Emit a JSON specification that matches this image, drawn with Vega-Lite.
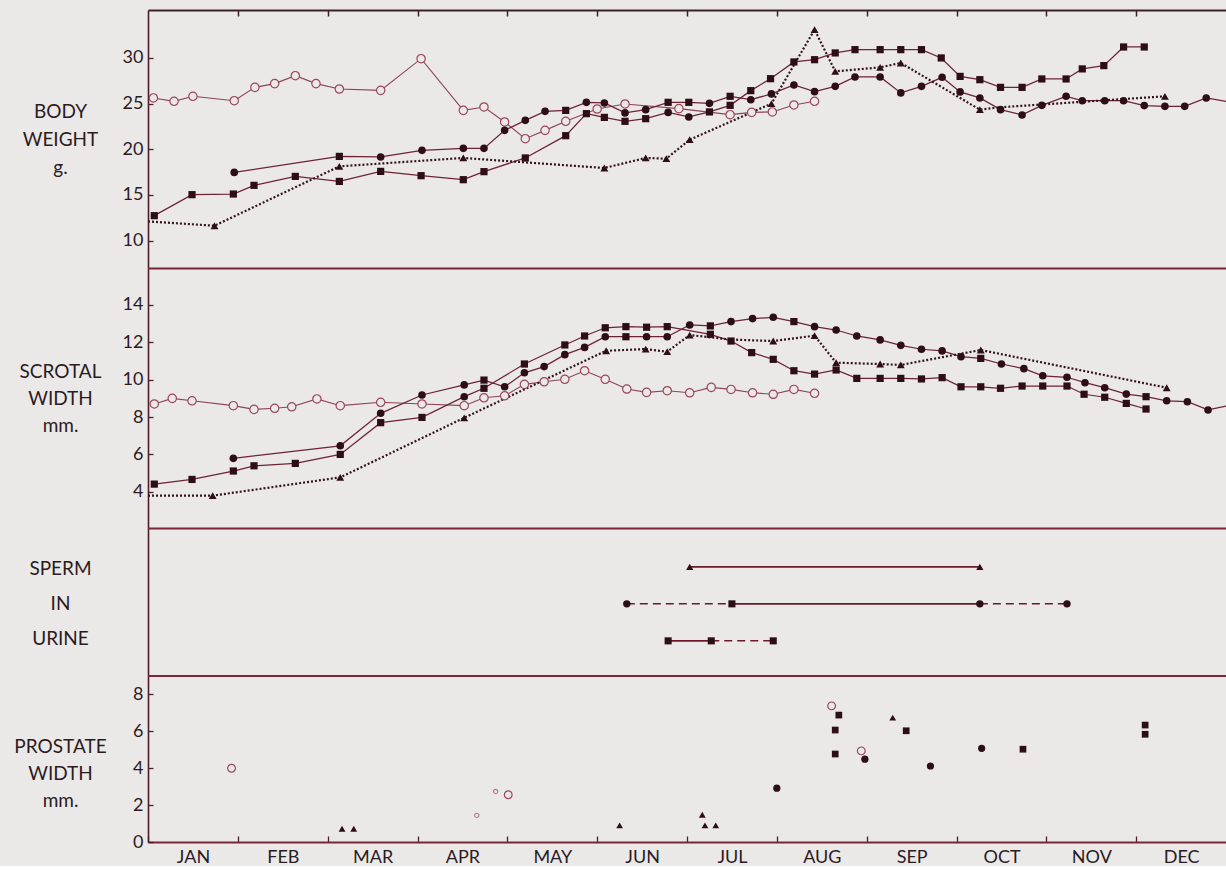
{
  "$schema": "https://vega.github.io/schema/vega-lite/v6.json",
  "background": "#ebe9e8",
  "padding": {"left": 13, "top": 9, "right": 0, "bottom": 0},
  "spacing": 0,
  "bounds": "flush",
  "config": {
    "view": {"stroke": null},
    "font": "Lato",
    "axis": {
      "labelFont": "Lato", "labelFontSize": 18, "labelColor": "#2b1b1f",
      "titleFont": "Lato", "titleFontSize": 19, "titleFontWeight": "normal", "titleColor": "#2b1b1f",
      "grid": false, "domainColor": "#4e1c28", "tickColor": "#4e1c28", "domainWidth": 1.6, "tickWidth": 1.3,
      "labelFlush": false, "labelOverlap": false
    }
  },
  "datasets": {
    "bw": [
      {"series":"A","month":0.06,"value":25.62,"marker":"open"},
      {"series":"A","month":0.29,"value":25.25,"marker":"open"},
      {"series":"A","month":0.50,"value":25.80,"marker":"open"},
      {"series":"A","month":0.96,"value":25.32,"marker":"open"},
      {"series":"A","month":1.19,"value":26.78,"marker":"open"},
      {"series":"A","month":1.41,"value":27.19,"marker":"open"},
      {"series":"A","month":1.64,"value":28.06,"marker":"open"},
      {"series":"A","month":1.87,"value":27.19,"marker":"open"},
      {"series":"A","month":2.13,"value":26.60,"marker":"open"},
      {"series":"A","month":2.59,"value":26.45,"marker":"open"},
      {"series":"A","month":3.04,"value":29.92,"marker":"open"},
      {"series":"A","month":3.51,"value":24.26,"marker":"open"},
      {"series":"A","month":3.74,"value":24.63,"marker":"open"},
      {"series":"A","month":3.97,"value":22.99,"marker":"open"},
      {"series":"A","month":4.20,"value":21.16,"marker":"open"},
      {"series":"A","month":4.42,"value":22.07,"marker":"open"},
      {"series":"A","month":4.65,"value":23.06,"marker":"open"},
      {"series":"A","month":5.00,"value":24.41,"marker":"open"},
      {"series":"A","month":5.31,"value":24.96,"marker":"open"},
      {"series":"A","month":5.91,"value":24.45,"marker":"open"},
      {"series":"A","month":6.48,"value":23.79,"marker":"open"},
      {"series":"A","month":6.72,"value":24.04,"marker":"open"},
      {"series":"A","month":6.95,"value":24.09,"marker":"open"},
      {"series":"A","month":7.19,"value":24.85,"marker":"open"},
      {"series":"A","month":7.42,"value":25.25,"marker":"open"},

      {"series":"B","month":0.00,"value":12.10,"marker":"none"},
      {"series":"B","month":0.74,"value":11.63,"marker":"triangle"},
      {"series":"B","month":2.13,"value":18.13,"marker":"triangle"},
      {"series":"B","month":3.51,"value":19.05,"marker":"triangle"},
      {"series":"B","month":5.08,"value":17.95,"marker":"triangle"},
      {"series":"B","month":5.54,"value":19.05,"marker":"triangle"},
      {"series":"B","month":5.77,"value":18.97,"marker":"triangle"},
      {"series":"B","month":6.03,"value":21.05,"marker":"triangle"},
      {"series":"B","month":6.94,"value":25.00,"marker":"triangle"},
      {"series":"B","month":7.42,"value":33.10,"marker":"triangle"},
      {"series":"B","month":7.65,"value":28.53,"marker":"triangle"},
      {"series":"B","month":8.15,"value":28.97,"marker":"triangle"},
      {"series":"B","month":8.38,"value":29.45,"marker":"triangle"},
      {"series":"B","month":9.26,"value":24.34,"marker":"triangle"},
      {"series":"B","month":9.49,"value":24.60,"marker":"none"},
      {"series":"B","month":11.32,"value":25.80,"marker":"triangle"},

      {"series":"C","month":0.96,"value":17.47,"marker":"circle"},
      {"series":"C","month":2.13,"value":19.22,"marker":"square"},
      {"series":"C","month":2.59,"value":19.16,"marker":"circle"},
      {"series":"C","month":3.05,"value":19.88,"marker":"circle"},
      {"series":"C","month":3.51,"value":20.10,"marker":"circle"},
      {"series":"C","month":3.74,"value":20.10,"marker":"circle"},
      {"series":"C","month":3.97,"value":22.07,"marker":"circle"},
      {"series":"C","month":4.20,"value":23.17,"marker":"circle"},
      {"series":"C","month":4.42,"value":24.15,"marker":"circle"},
      {"series":"C","month":4.65,"value":24.26,"marker":"square"},
      {"series":"C","month":4.88,"value":25.14,"marker":"circle"},
      {"series":"C","month":5.08,"value":25.07,"marker":"circle"},
      {"series":"C","month":5.31,"value":23.98,"marker":"circle"},
      {"series":"C","month":5.54,"value":24.34,"marker":"circle"},
      {"series":"C","month":5.79,"value":25.14,"marker":"square"},
      {"series":"C","month":6.02,"value":25.14,"marker":"square"},
      {"series":"C","month":6.25,"value":25.03,"marker":"circle"},
      {"series":"C","month":6.48,"value":25.80,"marker":"square"},
      {"series":"C","month":6.71,"value":25.43,"marker":"circle"},
      {"series":"C","month":6.94,"value":26.06,"marker":"circle"},
      {"series":"C","month":7.19,"value":27.04,"marker":"circle"},
      {"series":"C","month":7.42,"value":26.31,"marker":"circle"},
      {"series":"C","month":7.65,"value":26.89,"marker":"circle"},
      {"series":"C","month":7.87,"value":27.92,"marker":"circle"},
      {"series":"C","month":8.15,"value":27.92,"marker":"circle"},
      {"series":"C","month":8.38,"value":26.17,"marker":"circle"},
      {"series":"C","month":8.61,"value":26.89,"marker":"circle"},
      {"series":"C","month":8.84,"value":27.88,"marker":"circle"},
      {"series":"C","month":9.04,"value":26.28,"marker":"circle"},
      {"series":"C","month":9.26,"value":25.62,"marker":"circle"},
      {"series":"C","month":9.49,"value":24.34,"marker":"circle"},
      {"series":"C","month":9.73,"value":23.76,"marker":"circle"},
      {"series":"C","month":9.95,"value":24.81,"marker":"circle"},
      {"series":"C","month":10.22,"value":25.80,"marker":"circle"},
      {"series":"C","month":10.40,"value":25.32,"marker":"circle"},
      {"series":"C","month":10.65,"value":25.32,"marker":"circle"},
      {"series":"C","month":10.86,"value":25.32,"marker":"circle"},
      {"series":"C","month":11.09,"value":24.78,"marker":"circle"},
      {"series":"C","month":11.32,"value":24.70,"marker":"circle"},
      {"series":"C","month":11.54,"value":24.70,"marker":"circle"},
      {"series":"C","month":11.78,"value":25.62,"marker":"circle"},
      {"series":"C","month":12.00,"value":25.25,"marker":"none"},

      {"series":"D","month":0.07,"value":12.73,"marker":"square"},
      {"series":"D","month":0.49,"value":15.03,"marker":"square"},
      {"series":"D","month":0.95,"value":15.10,"marker":"square"},
      {"series":"D","month":1.18,"value":16.05,"marker":"square"},
      {"series":"D","month":1.64,"value":17.03,"marker":"square"},
      {"series":"D","month":2.13,"value":16.48,"marker":"square"},
      {"series":"D","month":2.59,"value":17.58,"marker":"square"},
      {"series":"D","month":3.04,"value":17.11,"marker":"square"},
      {"series":"D","month":3.51,"value":16.67,"marker":"square"},
      {"series":"D","month":3.74,"value":17.55,"marker":"square"},
      {"series":"D","month":4.20,"value":19.05,"marker":"square"},
      {"series":"D","month":4.65,"value":21.49,"marker":"square"},
      {"series":"D","month":4.88,"value":23.90,"marker":"square"},
      {"series":"D","month":5.08,"value":23.49,"marker":"square"},
      {"series":"D","month":5.31,"value":23.06,"marker":"square"},
      {"series":"D","month":5.54,"value":23.35,"marker":"square"},
      {"series":"D","month":5.79,"value":24.04,"marker":"circle"},
      {"series":"D","month":6.02,"value":23.54,"marker":"circle"},
      {"series":"D","month":6.25,"value":24.09,"marker":"square"},
      {"series":"D","month":6.48,"value":24.81,"marker":"square"},
      {"series":"D","month":6.71,"value":26.42,"marker":"square"},
      {"series":"D","month":6.93,"value":27.73,"marker":"square"},
      {"series":"D","month":7.19,"value":29.56,"marker":"square"},
      {"series":"D","month":7.42,"value":29.81,"marker":"square"},
      {"series":"D","month":7.65,"value":30.55,"marker":"square"},
      {"series":"D","month":7.87,"value":30.91,"marker":"square"},
      {"series":"D","month":8.15,"value":30.91,"marker":"square"},
      {"series":"D","month":8.38,"value":30.91,"marker":"square"},
      {"series":"D","month":8.61,"value":30.91,"marker":"square"},
      {"series":"D","month":8.83,"value":30.00,"marker":"square"},
      {"series":"D","month":9.04,"value":27.98,"marker":"square"},
      {"series":"D","month":9.26,"value":27.62,"marker":"square"},
      {"series":"D","month":9.49,"value":26.78,"marker":"square"},
      {"series":"D","month":9.73,"value":26.78,"marker":"square"},
      {"series":"D","month":9.95,"value":27.70,"marker":"square"},
      {"series":"D","month":10.22,"value":27.70,"marker":"square"},
      {"series":"D","month":10.40,"value":28.80,"marker":"square"},
      {"series":"D","month":10.64,"value":29.16,"marker":"square"},
      {"series":"D","month":10.86,"value":31.20,"marker":"square"},
      {"series":"D","month":11.09,"value":31.20,"marker":"square"}
    ],
    "sw": [
      {"series":"A","month":0.07,"value":8.70,"marker":"open"},
      {"series":"A","month":0.27,"value":9.00,"marker":"open"},
      {"series":"A","month":0.49,"value":8.87,"marker":"open"},
      {"series":"A","month":0.95,"value":8.61,"marker":"open"},
      {"series":"A","month":1.18,"value":8.41,"marker":"open"},
      {"series":"A","month":1.41,"value":8.47,"marker":"open"},
      {"series":"A","month":1.60,"value":8.55,"marker":"open"},
      {"series":"A","month":1.88,"value":8.97,"marker":"open"},
      {"series":"A","month":2.14,"value":8.61,"marker":"open"},
      {"series":"A","month":2.59,"value":8.79,"marker":"open"},
      {"series":"A","month":3.05,"value":8.70,"marker":"open"},
      {"series":"A","month":3.52,"value":8.61,"marker":"open"},
      {"series":"A","month":3.74,"value":9.03,"marker":"open"},
      {"series":"A","month":3.97,"value":9.14,"marker":"open"},
      {"series":"A","month":4.19,"value":9.75,"marker":"open"},
      {"series":"A","month":4.41,"value":9.89,"marker":"open"},
      {"series":"A","month":4.64,"value":10.02,"marker":"open"},
      {"series":"A","month":4.86,"value":10.48,"marker":"open"},
      {"series":"A","month":5.09,"value":10.02,"marker":"open"},
      {"series":"A","month":5.33,"value":9.50,"marker":"open"},
      {"series":"A","month":5.55,"value":9.32,"marker":"open"},
      {"series":"A","month":5.78,"value":9.41,"marker":"open"},
      {"series":"A","month":6.03,"value":9.30,"marker":"open"},
      {"series":"A","month":6.27,"value":9.59,"marker":"open"},
      {"series":"A","month":6.49,"value":9.48,"marker":"open"},
      {"series":"A","month":6.73,"value":9.30,"marker":"open"},
      {"series":"A","month":6.96,"value":9.22,"marker":"open"},
      {"series":"A","month":7.19,"value":9.48,"marker":"open"},
      {"series":"A","month":7.42,"value":9.27,"marker":"open"},

      {"series":"B","month":0.00,"value":3.79,"marker":"none"},
      {"series":"B","month":0.72,"value":3.79,"marker":"triangle"},
      {"series":"B","month":2.14,"value":4.77,"marker":"triangle"},
      {"series":"B","month":3.52,"value":7.96,"marker":"triangle"},
      {"series":"B","month":5.10,"value":11.55,"marker":"triangle"},
      {"series":"B","month":5.54,"value":11.64,"marker":"triangle"},
      {"series":"B","month":5.78,"value":11.50,"marker":"triangle"},
      {"series":"B","month":6.03,"value":12.39,"marker":"triangle"},
      {"series":"B","month":6.49,"value":12.15,"marker":"none"},
      {"series":"B","month":6.96,"value":12.07,"marker":"triangle"},
      {"series":"B","month":7.42,"value":12.36,"marker":"triangle"},
      {"series":"B","month":7.66,"value":10.91,"marker":"triangle"},
      {"series":"B","month":8.15,"value":10.84,"marker":"triangle"},
      {"series":"B","month":8.38,"value":10.79,"marker":"triangle"},
      {"series":"B","month":9.27,"value":11.59,"marker":"triangle"},
      {"series":"B","month":11.34,"value":9.57,"marker":"triangle"},

      {"series":"C","month":0.95,"value":5.79,"marker":"circle"},
      {"series":"C","month":2.14,"value":6.46,"marker":"circle"},
      {"series":"C","month":2.59,"value":8.20,"marker":"circle"},
      {"series":"C","month":3.05,"value":9.18,"marker":"circle"},
      {"series":"C","month":3.52,"value":9.72,"marker":"circle"},
      {"series":"C","month":3.74,"value":9.98,"marker":"square"},
      {"series":"C","month":3.97,"value":9.62,"marker":"circle"},
      {"series":"C","month":4.19,"value":10.37,"marker":"circle"},
      {"series":"C","month":4.41,"value":10.70,"marker":"circle"},
      {"series":"C","month":4.64,"value":11.34,"marker":"circle"},
      {"series":"C","month":4.86,"value":11.73,"marker":"circle"},
      {"series":"C","month":5.09,"value":12.30,"marker":"circle"},
      {"series":"C","month":5.32,"value":12.30,"marker":"square"},
      {"series":"C","month":5.55,"value":12.30,"marker":"circle"},
      {"series":"C","month":5.78,"value":12.30,"marker":"circle"},
      {"series":"C","month":6.03,"value":12.93,"marker":"circle"},
      {"series":"C","month":6.26,"value":12.88,"marker":"square"},
      {"series":"C","month":6.49,"value":13.11,"marker":"circle"},
      {"series":"C","month":6.73,"value":13.27,"marker":"circle"},
      {"series":"C","month":6.96,"value":13.34,"marker":"circle"},
      {"series":"C","month":7.19,"value":13.11,"marker":"square"},
      {"series":"C","month":7.42,"value":12.84,"marker":"circle"},
      {"series":"C","month":7.66,"value":12.66,"marker":"circle"},
      {"series":"C","month":7.89,"value":12.34,"marker":"circle"},
      {"series":"C","month":8.15,"value":12.13,"marker":"circle"},
      {"series":"C","month":8.38,"value":11.84,"marker":"circle"},
      {"series":"C","month":8.61,"value":11.63,"marker":"circle"},
      {"series":"C","month":8.84,"value":11.54,"marker":"circle"},
      {"series":"C","month":9.05,"value":11.23,"marker":"circle"},
      {"series":"C","month":9.27,"value":11.14,"marker":"square"},
      {"series":"C","month":9.50,"value":10.84,"marker":"circle"},
      {"series":"C","month":9.75,"value":10.59,"marker":"circle"},
      {"series":"C","month":9.96,"value":10.21,"marker":"circle"},
      {"series":"C","month":10.23,"value":10.13,"marker":"circle"},
      {"series":"C","month":10.43,"value":9.84,"marker":"circle"},
      {"series":"C","month":10.65,"value":9.57,"marker":"circle"},
      {"series":"C","month":10.89,"value":9.23,"marker":"circle"},
      {"series":"C","month":11.11,"value":9.09,"marker":"square"},
      {"series":"C","month":11.34,"value":8.87,"marker":"circle"},
      {"series":"C","month":11.57,"value":8.82,"marker":"circle"},
      {"series":"C","month":11.80,"value":8.38,"marker":"circle"},
      {"series":"C","month":12.00,"value":8.59,"marker":"none"},

      {"series":"D","month":0.07,"value":4.41,"marker":"square"},
      {"series":"D","month":0.49,"value":4.66,"marker":"square"},
      {"series":"D","month":0.95,"value":5.11,"marker":"square"},
      {"series":"D","month":1.18,"value":5.39,"marker":"square"},
      {"series":"D","month":1.64,"value":5.52,"marker":"square"},
      {"series":"D","month":2.14,"value":6.00,"marker":"square"},
      {"series":"D","month":2.59,"value":7.70,"marker":"square"},
      {"series":"D","month":3.05,"value":7.98,"marker":"square"},
      {"series":"D","month":3.52,"value":9.09,"marker":"circle"},
      {"series":"D","month":3.74,"value":9.54,"marker":"square"},
      {"series":"D","month":4.19,"value":10.84,"marker":"square"},
      {"series":"D","month":4.64,"value":11.86,"marker":"square"},
      {"series":"D","month":4.86,"value":12.34,"marker":"square"},
      {"series":"D","month":5.09,"value":12.78,"marker":"square"},
      {"series":"D","month":5.32,"value":12.84,"marker":"square"},
      {"series":"D","month":5.55,"value":12.81,"marker":"square"},
      {"series":"D","month":5.78,"value":12.84,"marker":"square"},
      {"series":"D","month":6.26,"value":12.43,"marker":"square"},
      {"series":"D","month":6.49,"value":12.07,"marker":"square"},
      {"series":"D","month":6.72,"value":11.45,"marker":"square"},
      {"series":"D","month":6.96,"value":11.09,"marker":"square"},
      {"series":"D","month":7.19,"value":10.48,"marker":"square"},
      {"series":"D","month":7.42,"value":10.30,"marker":"square"},
      {"series":"D","month":7.66,"value":10.52,"marker":"square"},
      {"series":"D","month":7.89,"value":10.07,"marker":"square"},
      {"series":"D","month":8.15,"value":10.07,"marker":"square"},
      {"series":"D","month":8.38,"value":10.07,"marker":"square"},
      {"series":"D","month":8.61,"value":10.04,"marker":"square"},
      {"series":"D","month":8.84,"value":10.11,"marker":"square"},
      {"series":"D","month":9.05,"value":9.62,"marker":"square"},
      {"series":"D","month":9.27,"value":9.62,"marker":"square"},
      {"series":"D","month":9.49,"value":9.54,"marker":"square"},
      {"series":"D","month":9.73,"value":9.66,"marker":"square"},
      {"series":"D","month":9.96,"value":9.66,"marker":"square"},
      {"series":"D","month":10.23,"value":9.66,"marker":"square"},
      {"series":"D","month":10.42,"value":9.22,"marker":"square"},
      {"series":"D","month":10.65,"value":9.06,"marker":"square"},
      {"series":"D","month":10.89,"value":8.73,"marker":"square"},
      {"series":"D","month":11.11,"value":8.43,"marker":"square"}
    ],
    "spermSegments": [
      {"row":3,"start":6.03,"end":9.26,"style":"solid"},
      {"row":2,"start":5.33,"end":6.50,"style":"dashed"},
      {"row":2,"start":6.50,"end":9.26,"style":"solid"},
      {"row":2,"start":9.26,"end":10.23,"style":"dashed"},
      {"row":1,"start":5.79,"end":6.27,"style":"solid"},
      {"row":1,"start":6.27,"end":6.96,"style":"dashed"}
    ],
    "spermPoints": [
      {"row":3,"month":6.03,"marker":"triangle"},
      {"row":3,"month":9.26,"marker":"triangle"},
      {"row":2,"month":5.33,"marker":"circle"},
      {"row":2,"month":6.50,"marker":"square"},
      {"row":2,"month":9.26,"marker":"circle"},
      {"row":2,"month":10.23,"marker":"circle"},
      {"row":1,"month":5.79,"marker":"square"},
      {"row":1,"month":6.27,"marker":"square"},
      {"row":1,"month":6.96,"marker":"square"}
    ],
    "prostate": [
      {"month":0.93,"value":4.00,"marker":"open"},
      {"month":2.16,"value":0.72,"marker":"triangle"},
      {"month":2.29,"value":0.72,"marker":"triangle"},
      {"month":3.66,"value":1.44,"marker":"dot"},
      {"month":3.87,"value":2.74,"marker":"dot"},
      {"month":4.01,"value":2.56,"marker":"open"},
      {"month":5.25,"value":0.90,"marker":"triangle"},
      {"month":6.17,"value":1.48,"marker":"triangle"},
      {"month":6.20,"value":0.90,"marker":"triangle"},
      {"month":6.32,"value":0.90,"marker":"triangle"},
      {"month":7.00,"value":2.92,"marker":"circle"},
      {"month":7.61,"value":7.38,"marker":"open"},
      {"month":7.69,"value":6.88,"marker":"square"},
      {"month":7.65,"value":6.07,"marker":"square"},
      {"month":7.65,"value":4.77,"marker":"square"},
      {"month":7.94,"value":4.94,"marker":"open"},
      {"month":7.98,"value":4.49,"marker":"circle"},
      {"month":8.29,"value":6.74,"marker":"triangle"},
      {"month":8.44,"value":6.03,"marker":"square"},
      {"month":8.71,"value":4.12,"marker":"circle"},
      {"month":9.28,"value":5.08,"marker":"circle"},
      {"month":9.74,"value":5.03,"marker":"square"},
      {"month":11.10,"value":6.34,"marker":"square"},
      {"month":11.10,"value":5.84,"marker":"square"}
    ]
  },
  "vconcat": [
    {
      "width": 1078, "height": 258,
      "data": {"name": "bw"},
      "encoding": {
        "x": {"field": "month", "type": "quantitative", "scale": {"domain": [0, 12], "nice": false, "zero": false},
              "axis": {"orient": "top", "values": [1,2,3,4,5,6,7,8,9,10,11], "tickSize": -6, "labels": false, "title": null, "domainColor": "#3b2327", "domainWidth": 2, "tickColor": "#3b2327", "tickWidth": 1.5}},
        "y": {"field": "value", "type": "quantitative", "scale": {"domain": [7, 35.25], "nice": false, "zero": false},
              "axis": {"values": [10,15,20,25,30], "tickSize": -5, "labelPadding": 10, "title": ["BODY","WEIGHT","g."], "titleAngle": 0, "titleAlign": "center", "titleBaseline": "alphabetic", "titleX": -88, "titleY": 107, "titleLineHeight": 28}}
      },
      "layer": [
        {"transform": [{"filter": "datum.series == 'A'"}], "mark": {"type": "line", "color": "#8c4456", "strokeWidth": 1.1}, "encoding": {}},
        {"transform": [{"filter": "datum.series == 'C' || datum.series == 'D'"}], "mark": {"type": "line", "color": "#6e2232", "strokeWidth": 1.25}, "encoding": {"detail": {"field": "series", "type": "nominal"}}},
        {"transform": [{"filter": "datum.series == 'B'"}], "mark": {"type": "line", "color": "#33121b", "strokeWidth": 2.2, "strokeDash": [2, 2]}, "encoding": {}},
        {"transform": [{"filter": "datum.marker == 'open'"}], "mark": {"type": "point", "shape": "circle", "size": 70, "filled": true, "fill": "#ebe9e8", "stroke": "#9a4658", "strokeWidth": 1.2, "opacity": 1}},
        {"transform": [{"filter": "datum.marker == 'circle'"}], "mark": {"type": "point", "shape": "circle", "size": 58, "filled": true, "color": "#2d0e16", "opacity": 1}},
        {"transform": [{"filter": "datum.marker == 'square'"}], "mark": {"type": "point", "shape": "square", "size": 52, "filled": true, "color": "#2d0e16", "opacity": 1}},
        {"transform": [{"filter": "datum.marker == 'triangle'"}], "mark": {"type": "point", "shape": "triangle-up", "size": 62, "filled": true, "color": "#2d0e16", "opacity": 1}}
      ]
    },
    {
      "width": 1078, "height": 260,
      "data": {"name": "sw"},
      "encoding": {
        "x": {"field": "month", "type": "quantitative", "scale": {"domain": [0, 12], "nice": false, "zero": false},
              "axis": {"orient": "top", "ticks": false, "labels": false, "title": null, "domainColor": "#7a2535", "domainWidth": 2}},
        "y": {"field": "value", "type": "quantitative", "scale": {"domain": [2.06, 15.98], "nice": false, "zero": false},
              "axis": {"values": [4,6,8,10,12,14], "tickSize": -5, "labelPadding": 10, "title": ["SCROTAL","WIDTH","mm."], "titleAngle": 0, "titleAlign": "center", "titleBaseline": "alphabetic", "titleX": -88, "titleY": 109, "titleLineHeight": 27}}
      },
      "layer": [
        {"transform": [{"filter": "datum.series == 'A'"}], "mark": {"type": "line", "color": "#8c4456", "strokeWidth": 1.1}, "encoding": {}},
        {"transform": [{"filter": "datum.series == 'C' || datum.series == 'D'"}], "mark": {"type": "line", "color": "#6e2232", "strokeWidth": 1.25}, "encoding": {"detail": {"field": "series", "type": "nominal"}}},
        {"transform": [{"filter": "datum.series == 'B'"}], "mark": {"type": "line", "color": "#33121b", "strokeWidth": 2.2, "strokeDash": [2, 2]}, "encoding": {}},
        {"transform": [{"filter": "datum.marker == 'open'"}], "mark": {"type": "point", "shape": "circle", "size": 70, "filled": true, "fill": "#ebe9e8", "stroke": "#9a4658", "strokeWidth": 1.2, "opacity": 1}},
        {"transform": [{"filter": "datum.marker == 'circle'"}], "mark": {"type": "point", "shape": "circle", "size": 58, "filled": true, "color": "#2d0e16", "opacity": 1}},
        {"transform": [{"filter": "datum.marker == 'square'"}], "mark": {"type": "point", "shape": "square", "size": 52, "filled": true, "color": "#2d0e16", "opacity": 1}},
        {"transform": [{"filter": "datum.marker == 'triangle'"}], "mark": {"type": "point", "shape": "triangle-up", "size": 62, "filled": true, "color": "#2d0e16", "opacity": 1}}
      ]
    },
    {
      "width": 1078, "height": 148,
      "encoding": {
        "y": {"field": "row", "type": "quantitative", "scale": {"domain": [0.05, 4.05], "nice": false, "zero": false},
              "axis": {"ticks": false, "labels": false, "title": ["SPERM","IN","URINE"], "titleAngle": 0, "titleAlign": "center", "titleBaseline": "alphabetic", "titleX": -88, "titleY": 46, "titleLineHeight": 35}}
      },
      "layer": [
        {"data": {"name": "spermSegments"},
         "transform": [{"filter": "datum.style == 'solid'"}],
         "mark": {"type": "rule", "color": "#6a1a28", "strokeWidth": 1.6},
         "encoding": {
           "x": {"field": "start", "type": "quantitative", "scale": {"domain": [0, 12], "nice": false, "zero": false},
                 "axis": {"orient": "top", "ticks": false, "labels": false, "title": null, "domainColor": "#7a2535", "domainWidth": 2}},
           "x2": {"field": "end"}
         }},
        {"data": {"name": "spermSegments"},
         "transform": [{"filter": "datum.style == 'dashed'"}],
         "mark": {"type": "rule", "color": "#6a1a28", "strokeWidth": 1.5, "strokeDash": [8, 5]},
         "encoding": {
           "x": {"field": "start", "type": "quantitative", "scale": {"domain": [0, 12], "nice": false, "zero": false},
                 "axis": {"orient": "top", "ticks": false, "labels": false, "title": null, "domainColor": "#7a2535", "domainWidth": 2}},
           "x2": {"field": "end"}
         }},
        {"data": {"name": "spermPoints"},
         "transform": [{"filter": "datum.marker == 'circle'"}],
         "mark": {"type": "point", "shape": "circle", "size": 55, "filled": true, "color": "#2d0e16", "opacity": 1},
         "encoding": {"x": {"field": "month", "type": "quantitative", "scale": {"domain": [0, 12], "nice": false, "zero": false},
                 "axis": {"orient": "top", "ticks": false, "labels": false, "title": null, "domainColor": "#7a2535", "domainWidth": 2}}}},
        {"data": {"name": "spermPoints"},
         "transform": [{"filter": "datum.marker == 'square'"}],
         "mark": {"type": "point", "shape": "square", "size": 50, "filled": true, "color": "#2d0e16", "opacity": 1},
         "encoding": {"x": {"field": "month", "type": "quantitative", "scale": {"domain": [0, 12], "nice": false, "zero": false},
                 "axis": {"orient": "top", "ticks": false, "labels": false, "title": null, "domainColor": "#7a2535", "domainWidth": 2}}}},
        {"data": {"name": "spermPoints"},
         "transform": [{"filter": "datum.marker == 'triangle'"}],
         "mark": {"type": "point", "shape": "triangle-up", "size": 52, "filled": true, "color": "#2d0e16", "opacity": 1},
         "encoding": {"x": {"field": "month", "type": "quantitative", "scale": {"domain": [0, 12], "nice": false, "zero": false},
                 "axis": {"orient": "top", "ticks": false, "labels": false, "title": null, "domainColor": "#7a2535", "domainWidth": 2}}}}
      ]
    },
    {
      "width": 1078, "height": 166,
      "encoding": {
        "x": {"field": "month", "type": "quantitative", "scale": {"domain": [0, 12], "nice": false, "zero": false},
              "axis": {"orient": "bottom", "values": [0,1,2,3,4,5,6,7,8,9,10,11], "tickSize": -6, "labelPadding": 12, "labelOffset": 45,
                       "labelExpr": "['JAN','FEB','MAR','APR','MAY','JUN','JUL','AUG','SEP','OCT','NOV','DEC'][datum.value]",
                       "title": null, "domainColor": "#7a2535", "domainWidth": 2}},
        "y": {"field": "value", "type": "quantitative", "scale": {"domain": [0, 9], "nice": false, "zero": false},
              "axis": {"values": [0,2,4,6,8], "tickSize": -5, "labelPadding": 10, "title": ["PROSTATE","WIDTH","mm."], "titleAngle": 0, "titleAlign": "center", "titleBaseline": "alphabetic", "titleX": -88, "titleY": 76, "titleLineHeight": 27}}
      },
      "layer": [
        {"data": {"values": [{"value": 9}]},
         "mark": {"type": "rule", "color": "#7a2535", "strokeWidth": 2},
         "encoding": {"x": null, "y": {"field": "value", "type": "quantitative"}}},
        {"data": {"name": "prostate"}, "transform": [{"filter": "datum.marker == 'open'"}],
         "mark": {"type": "point", "shape": "circle", "size": 60, "filled": true, "fill": "#ebe9e8", "stroke": "#9a4658", "strokeWidth": 1.2, "opacity": 1}},
        {"data": {"name": "prostate"}, "transform": [{"filter": "datum.marker == 'dot'"}],
         "mark": {"type": "point", "shape": "circle", "size": 18, "filled": true, "fill": "#ebe9e8", "stroke": "#b07a86", "strokeWidth": 1.1, "opacity": 1}},
        {"data": {"name": "prostate"}, "transform": [{"filter": "datum.marker == 'circle'"}],
         "mark": {"type": "point", "shape": "circle", "size": 52, "filled": true, "color": "#2d0e16", "opacity": 1}},
        {"data": {"name": "prostate"}, "transform": [{"filter": "datum.marker == 'square'"}],
         "mark": {"type": "point", "shape": "square", "size": 45, "filled": true, "color": "#2d0e16", "opacity": 1}},
        {"data": {"name": "prostate"}, "transform": [{"filter": "datum.marker == 'triangle'"}],
         "mark": {"type": "point", "shape": "triangle-up", "size": 46, "filled": true, "color": "#2d0e16", "opacity": 1}}
      ]
    }
  ]
}
